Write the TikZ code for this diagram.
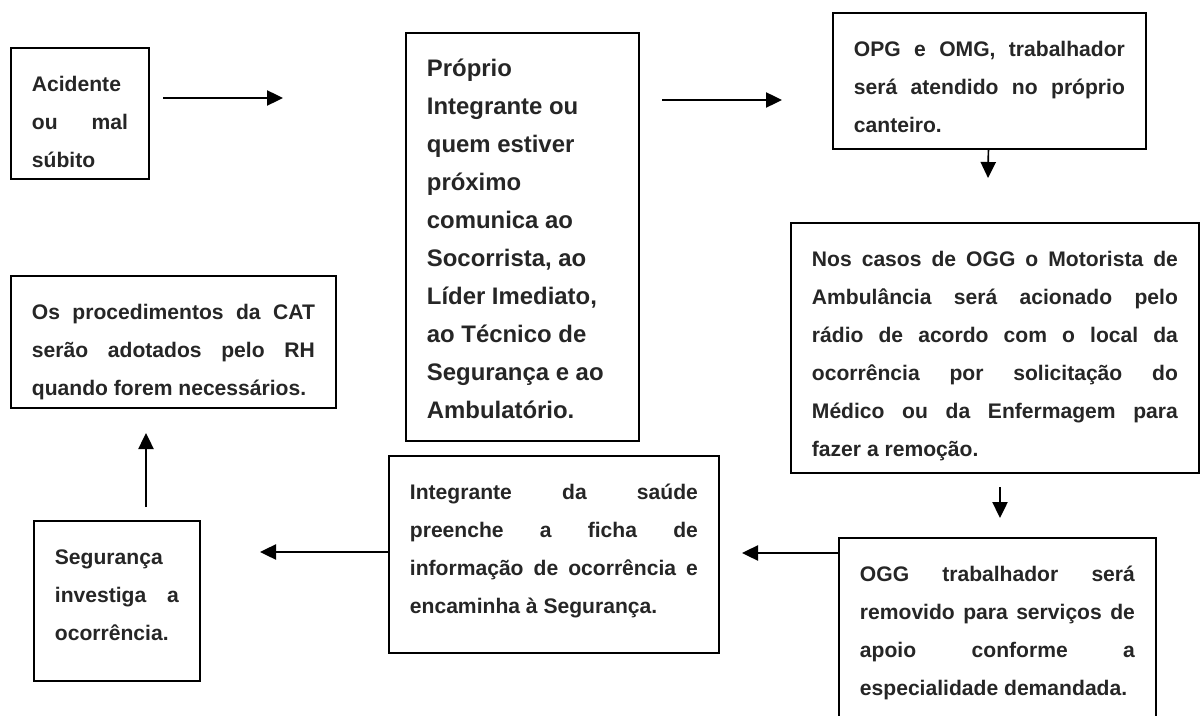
\documentclass[tikz,border=0pt]{standalone}
\usepackage{fontspec}
\setmainfont{Liberation Sans}
\usepackage{tikz}
\usetikzlibrary{arrows.meta}

\newlength{\pxunit}
\setlength{\pxunit}{0.025cm}
% box text: width and height in pixels, lines top aligned
\newcommand{\boxtext}[3]{\parbox[c][\dimexpr #2\pxunit-24pt\relax][t]{\dimexpr #1\pxunit-1.05cm\relax}{\raggedright\strut #3}}
% one justified line
\newcommand{\jl}[1]{\makebox[\linewidth][s]{#1}\\}

\begin{document}
\begin{tikzpicture}[x=0.025cm, y=-0.025cm,
                    box/.style = {draw, line width=1.3pt, anchor=north west, inner xsep=0.525cm, inner ysep=12pt,
                                  text=black!85, font=\fontsize{15}{27}\selectfont\bfseries},
                    flow/.style = {line width=1.2pt, -{Triangle[length=0.4cm, width=0.38cm]}}]
        \clip (0,0) rectangle (1200,715);
        \fill[white] (0,0) rectangle (1200,715);
        \node[box] (acid) at (10,47) {\boxtext{138}{131}{Acidente\\ \jl{ou mal} súbito}};
        \node[box, font=\fontsize{17}{27}\selectfont\bfseries] (proprio) at (405,32) {\boxtext{233}{408}{Próprio\\ Integrante ou\\ quem estiver\\ próximo\\ comunica ao\\ Socorrista, ao\\ Líder Imediato,\\ ao Técnico de\\ Segurança e ao\\ Ambulatório.}};
        \node[box] (opg) at (832,12) {\boxtext{313}{136}{\jl{OPG e OMG, trabalhador} \jl{será atendido no próprio} canteiro.}};
        \node[box] (casos) at (790,222) {\boxtext{408}{250}{\jl{Nos casos de OGG o Motorista de} \jl{Ambulância será acionado pelo} \jl{rádio de acordo com o local da} \jl{ocorrência por solicitação do} \jl{Médico ou da Enfermagem para} fazer a remoção.}};
        \node[box] (remocao) at (838,537) {\boxtext{317}{203}{\jl{OGG trabalhador será} \jl{removido para serviços de} \jl{apoio conforme a} especialidade demandada.}};
        \node[box] (integ) at (388,455) {\boxtext{330}{197}{\jl{Integrante da saúde} \jl{preenche a ficha de} \jl{informação de ocorrência e} encaminha à Segurança.}};
        \node[box] (seg) at (33,520) {\boxtext{166}{160}{Segurança\\ \jl{investiga a} ocorrência.}};
        \node[box] (cat) at (10,275) {\boxtext{325}{132}{\jl{Os procedimentos da CAT} \jl{serão adotados pelo RH} quando forem necessários.}};
        \coordinate (a1s) at (163,98);
        \coordinate (a1e) at (283,98);
        \coordinate (a2s) at (662,100);
        \coordinate (a2e) at (782,100);
        \coordinate (a3e) at (988,178);
        \coordinate (a4s) at (1000,487);
        \coordinate (a4e) at (1000,518);
        \coordinate (a5e) at (742,553);
        \coordinate (a6e) at (260,552);
        \coordinate (a7s) at (146,507);
        \coordinate (a7e) at (146,433);
        \draw[flow] (a1s) -- (a1e);
        \draw[flow] (a2s) -- (a2e);
        \draw[flow] (opg) -- (a3e);
        \draw[flow] (a4s) -- (a4e);
        \draw[flow] (remocao.west |- a5e) -- (a5e);
        \draw[flow] (integ.west |- a6e) -- (a6e);
        \draw[flow] (a7s) -- (a7e);
    \end{tikzpicture}
\end{document}
